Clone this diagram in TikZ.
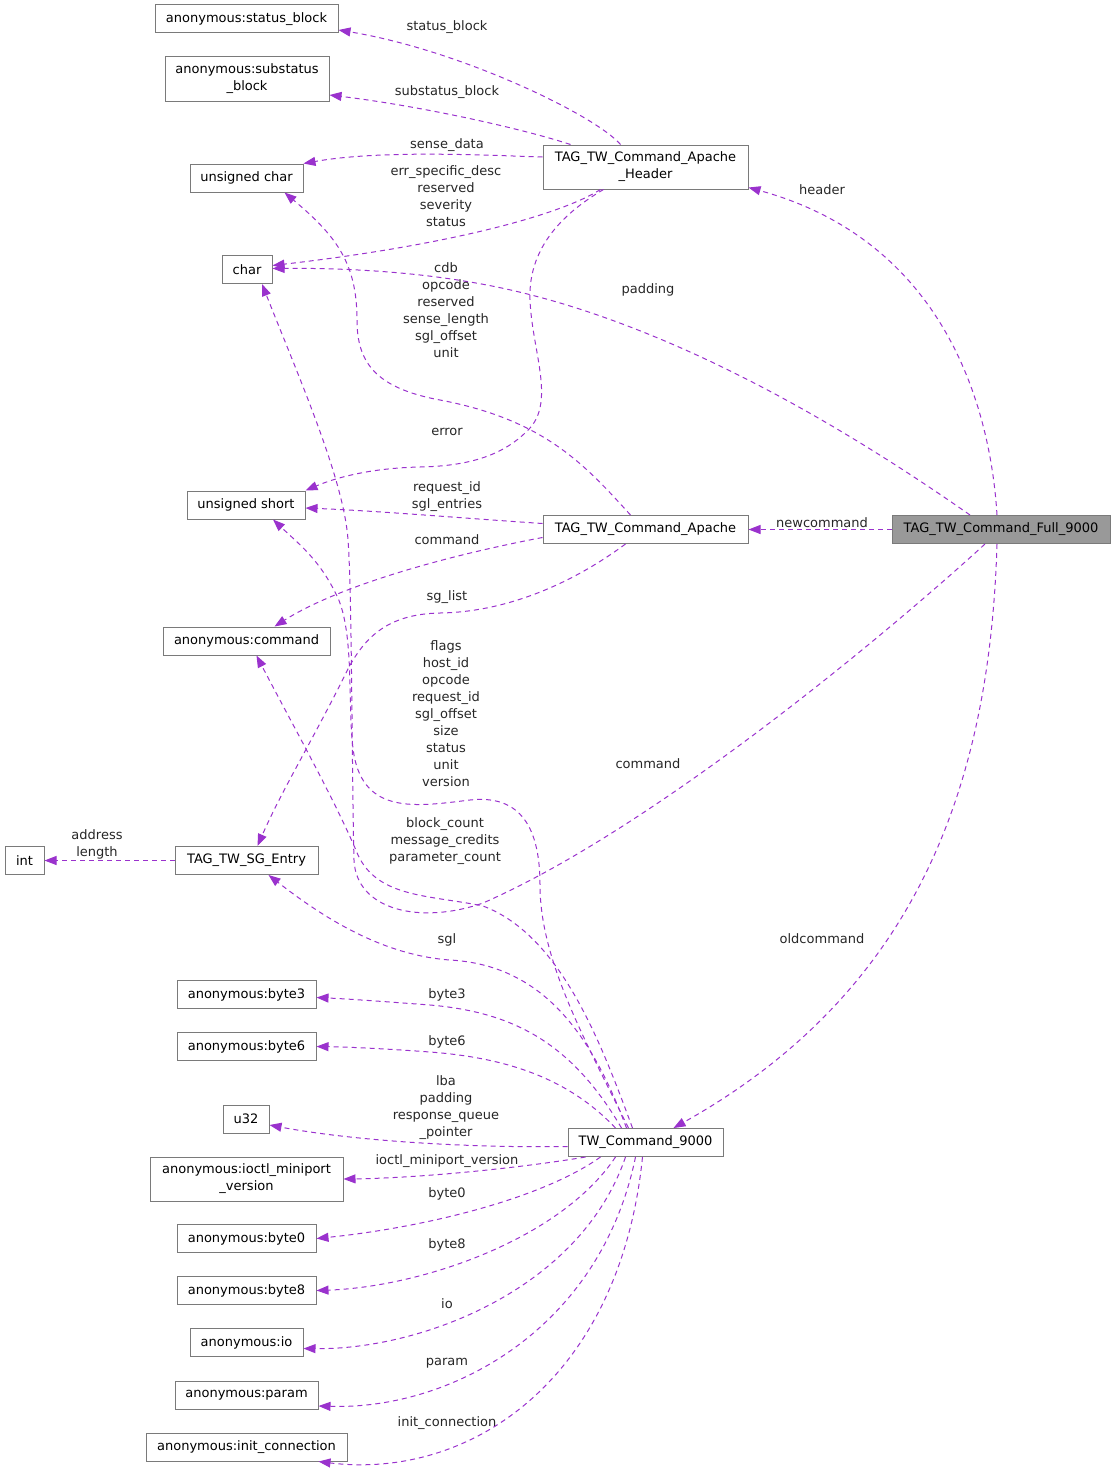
\documentclass[tikz,border=0pt]{standalone}
\usepackage{fontspec}
\setmainfont{DejaVu Sans}
\usetikzlibrary{arrows.meta}
\definecolor{edgec}{HTML}{9A32CD}
\definecolor{bordc}{HTML}{7A7A7A}
\definecolor{rootc}{HTML}{999999}
\newcommand\doxfont{\fontsize{13}{17}\selectfont}
\tikzset{
  box/.style={draw=bordc, fill=white, line width=1pt, inner sep=0pt, align=center, font=\doxfont, minimum height=28pt},
  boxtwo/.style={box, minimum height=44pt},
  lbl/.style={align=center, font=\doxfont, inner sep=0pt, text=black!85, yshift=-1.5pt},
  edge/.style={draw=edgec, line width=1pt, dash pattern=on 5pt off 4pt, -{Triangle[length=12pt,width=9pt]}}
}
\begin{document}
\begin{tikzpicture}[x=1pt,y=-1pt]
\useasboundingbox (0,0) rectangle (1116,1472);
% nodes
\node[box, minimum width=183pt] (sb) at (246.5,19) {anonymous:status\_block};
\node[boxtwo, minimum width=164pt] (ssb) at (247,79) {anonymous:substatus\\\_block};
\node[box, minimum width=113pt] (uc) at (246.5,178) {unsigned char};
\node[box, minimum width=50pt] (ch) at (247,269.5) {char};
\node[box, minimum width=118pt] (us) at (246,505) {unsigned short};
\node[box, minimum width=167pt] (ac) at (246.5,641) {anonymous:command};
\node[box, minimum width=39pt] (int) at (24.5,860.5) {int};
\node[box, minimum width=143pt] (sge) at (246.5,860.5) {TAG\_TW\_SG\_Entry};
\node[box, minimum width=139pt] (b3) at (246.5,994.5) {anonymous:byte3};
\node[box, minimum width=139pt] (b6) at (246.5,1046.5) {anonymous:byte6};
\node[box, minimum width=46pt] (u32) at (246,1119) {u32};
\node[boxtwo, minimum width=193pt] (ioc) at (246.5,1179) {anonymous:ioctl\_miniport\\\_version};
\node[box, minimum width=139pt] (b0) at (246.5,1238.5) {anonymous:byte0};
\node[box, minimum width=139pt] (b8) at (246.5,1290.5) {anonymous:byte8};
\node[box, minimum width=113pt] (io) at (246.5,1342.5) {anonymous:io};
\node[box, minimum width=143pt] (par) at (246.5,1395) {anonymous:param};
\node[box, minimum width=201pt] (ini) at (246.5,1447) {anonymous:init\_connection};
\node[boxtwo, minimum width=205pt] (hdr) at (645.5,167) {TAG\_TW\_Command\_Apache\\\_Header};
\node[box, minimum width=205pt] (apc) at (645.5,529.5) {TAG\_TW\_Command\_Apache};
\node[box, minimum width=155pt] (tw) at (645.5,1142.5) {TW\_Command\_9000};
\node[box, minimum width=218pt, fill=rootc] (full) at (1001,529.5) {TAG\_TW\_Command\_Full\_9000};
% edges from header
\draw[edge] ([xshift=-25pt]hdr.north) .. controls (595,115) and (460,50) .. ([yshift=-11pt]sb.east);
\draw[edge] ([xshift=-75pt]hdr.north) .. controls (520,128) and (420,106) .. ([yshift=-16pt]ssb.east);
\draw[edge] ([yshift=10pt]hdr.west) .. controls (480,155) and (380,150) .. (uc.north east);
\draw[edge] ([xshift=-45pt]hdr.south) .. controls (560,215) and (450,245) .. ([yshift=4pt]ch.east);
\draw[edge] ([xshift=-42pt]hdr.south) .. controls (560,215) and (528,250) .. (530,300)
   .. controls (532,350) and (555,400) .. (530,428)
   .. controls (505,455) and (470,466) .. (420,467)
   .. controls (370,468) and (335,478) .. (us.north east);
% edges from full
\draw[edge] ([xshift=-4pt]full.north) .. controls (990,400) and (940,240) .. ([yshift=2pt]hdr.south east);
\draw[edge] (full.west) -- (apc.east);
\draw[edge] ([xshift=-31pt]full.north) .. controls (820,410) and (640,310) .. (470,282)
   .. controls (400,270) and (330,268) .. ([yshift=1pt]ch.east);
\draw[edge] ([xshift=-16pt]full.south) .. controls (880,640) and (650,830) .. (483,903)
   .. controls (420,925) and (356,910) .. (354,860)
   .. controls (352,790) and (352,590) .. (348,540)
   .. controls (344,480) and (300,380) .. ([xshift=15pt]ch.south);
\draw[edge] ([xshift=-4pt]full.south) .. controls (990,780) and (920,990) .. ([xshift=28pt]tw.north);
% edges from apache
\draw[edge] ([xshift=-15pt]apc.north) .. controls (585,465) and (545,420) .. (440,400)
   .. controls (375,388) and (357,362) .. (357,320)
   .. controls (357,262) and (335,235) .. ([xshift=38pt]uc.south);
\draw[edge] ([yshift=6pt]apc.west) .. controls (460,518) and (380,511) .. ([yshift=-3pt]us.east);
\draw[edge] ([yshift=-8pt]apc.west) .. controls (450,555) and (340,585) .. ([xshift=28pt]ac.north);
\draw[edge] ([xshift=-20pt]apc.south) .. controls (570,585) and (505,612) .. (440,613)
   .. controls (385,614) and (362,640) .. (345,675)
   .. controls (310,745) and (282,790) .. ([xshift=11pt]sge.north);
% sg entry
\draw[edge] (sge.west) -- (int.east);
% edges from TW_Command_9000
\draw[edge] ([xshift=-17pt]tw.north) .. controls (585,1040) and (540,960) .. (540,885)
   .. controls (540,820) and (515,795) .. (470,800)
   .. controls (420,806) and (368,815) .. (355,760)
   .. controls (346,720) and (356,640) .. (338,598)
   .. controls (320,560) and (300,545) .. ([xshift=27pt]us.south);
\draw[edge] ([xshift=-13pt]tw.north) .. controls (600,1040) and (560,935) .. (483,906)
   .. controls (430,895) and (378,898) .. (358,855)
   .. controls (335,800) and (290,720) .. ([xshift=10pt]ac.south);
\draw[edge] ([xshift=-19pt]tw.north) .. controls (590,1030) and (540,965) .. (450,960)
   .. controls (380,955) and (320,915) .. ([xshift=22pt]sge.south);
\draw[edge] ([xshift=-24pt]tw.north) .. controls (570,1040) and (510,1012) .. (430,1005)
   .. controls (390,1002) and (350,999) .. ([yshift=-3pt]b3.east);
\draw[edge] ([xshift=-30pt]tw.north) .. controls (570,1080) and (510,1058) .. (430,1052)
   .. controls (390,1049) and (350,1047) .. (b6.east);
\draw[edge] ([yshift=-4pt]tw.west) .. controls (480,1148) and (360,1142) .. ([yshift=-6pt]u32.east);
\draw[edge] ([xshift=-60pt]tw.south) .. controls (520,1168) and (420,1178) .. (ioc.east);
\draw[edge] ([xshift=-45pt]tw.south) .. controls (540,1200) and (420,1228) .. (b0.east);
\draw[edge] ([xshift=-30pt]tw.south) .. controls (560,1240) and (420,1287) .. (b8.east);
\draw[edge] ([xshift=-20pt]tw.south) .. controls (580,1290) and (420,1350) .. ([yshift=-6pt]io.east);
\draw[edge] ([xshift=-10pt]tw.south) .. controls (600,1330) and (450,1410) .. ([yshift=-11pt]par.east);
\draw[edge] ([xshift=-3pt]tw.south) .. controls (620,1380) and (470,1480) .. ([xshift=-29pt]ini.south east);
% labels
\node[lbl] (l1) at (447,26) {status\_block};
\node[lbl] (l2) at (447,91) {substatus\_block};
\node[lbl] (l3) at (447,144) {sense\_data};
\node[lbl] (l4) at (446,194.5) {err\_specific\_desc\\reserved\\severity\\status};
\node[lbl] (l5) at (822,188) {header};
\node[lbl] (l6) at (446,308.5) {cdb\\opcode\\reserved\\sense\_length\\sgl\_offset\\unit};
\node[lbl] (l7) at (648,288) {padding};
\node[lbl] (l8) at (447,430) {error};
\node[lbl] (l9) at (447,495.5) {request\_id\\sgl\_entries};
\node[lbl] (l10) at (822,521) {newcommand};
\node[lbl] (l11) at (447,538) {command};
\node[lbl] (l12) at (447,596) {sg\_list};
\node[lbl] (l13) at (446,712) {flags\\host\_id\\opcode\\request\_id\\sgl\_offset\\size\\status\\unit\\version};
\node[lbl] (l14) at (648,762) {command};
\node[lbl] (l15) at (97,842.5) {address\\length};
\node[lbl] (l16) at (445,840) {block\_count\\message\_credits\\parameter\_count};
\node[lbl] (l17) at (822,937) {oldcommand};
\node[lbl] (l18) at (447,938) {sgl};
\node[lbl] (l19) at (447,993) {byte3};
\node[lbl] (l20) at (447,1040) {byte6};
\node[lbl] (l21) at (446,1106.5) {lba\\padding\\response\_queue\\\_pointer};
\node[lbl] (l22) at (447,1160) {ioctl\_miniport\_version};
\node[lbl] (l23) at (447,1192) {byte0};
\node[lbl] (l24) at (447,1243) {byte8};
\node[lbl] (l25) at (447,1302) {io};
\node[lbl] (l26) at (447,1362) {param};
\node[lbl] (l27) at (447,1422) {init\_connection};
\end{tikzpicture}
\end{document}
